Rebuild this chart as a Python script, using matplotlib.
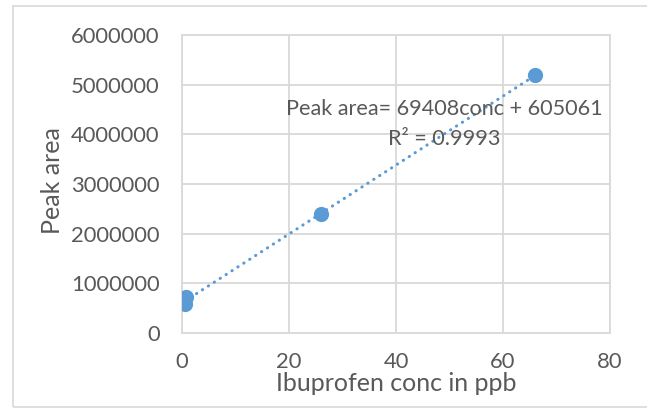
import matplotlib
matplotlib.use("Agg")
import matplotlib.pyplot as plt
from matplotlib.patches import Rectangle

# calibration points
conc_ppb = [0.5, 0.8, 26.0, 66.0]
peak_area = [580000, 720000, 2390000, 5200000]

# trendline as reported in the chart label
slope = 69408
intercept = 605061
r_squared = 0.9993

x_ticks = [0, 20, 40, 60, 80]
y_ticks = [0, 1000000, 2000000, 3000000, 4000000, 5000000, 6000000]

BLUE = "#5b9bd5"
GREY_TXT = "#595959"
GRID = "#d9d9d9"

plt.rcParams["font.family"] = ["Lato", "DejaVu Sans"]

fig = plt.figure(figsize=(6.47, 4.12), dpi=100)
ax = fig.add_axes([182 / 647, 1 - 333 / 412, 428 / 647, 298 / 412])

# outer chart border (Excel chart area)
fig.patches.append(Rectangle((13 / 647, 1 - 407 / 412), 1.0, 401 / 412,
                             transform=fig.transFigure, fill=False,
                             edgecolor=GRID, linewidth=1.2))

xmin, xmax = min(conc_ppb), max(conc_ppb)
ax.plot([xmin, xmax], [slope * xmin + intercept, slope * xmax + intercept],
        linestyle=(0, (0.1, 2.2)), dash_capstyle="round", color=BLUE,
        linewidth=2.2, zorder=2)
ax.scatter(conc_ppb, peak_area, s=120, color=BLUE, zorder=3, linewidths=0)

ax.set_xlim(0, 80)
ax.set_ylim(0, 6000000)
ax.set_xticks(x_ticks)
ax.set_yticks(y_ticks)
ax.set_yticklabels([str(v) for v in y_ticks])
ax.tick_params(length=0, labelsize=15.8, labelcolor=GREY_TXT)
ax.tick_params(axis="x", pad=14)
ax.tick_params(axis="y", pad=16)
ax.grid(True, color=GRID, linewidth=1.3)
ax.set_axisbelow(True)
for side in ["top", "right", "left", "bottom"]:
    ax.spines[side].set_color(GRID)
    ax.spines[side].set_linewidth(1.3)

ax.set_xlabel("Ibuprofen conc in ppb", fontsize=18, color=GREY_TXT, labelpad=0)
ax.set_ylabel("Peak area", fontsize=18, color=GREY_TXT)
ax.yaxis.set_label_coords(-0.276, 0.513)

ax.text(49, 4.5e6, f"Peak area= {slope}conc + {intercept}",
        ha="center", va="center", fontsize=15.6, color=GREY_TXT)
ax.text(49, 3.9e6, f"R² = {r_squared}",
        ha="center", va="center", fontsize=15.6, color=GREY_TXT)

fig.savefig("out.png", dpi=100)
